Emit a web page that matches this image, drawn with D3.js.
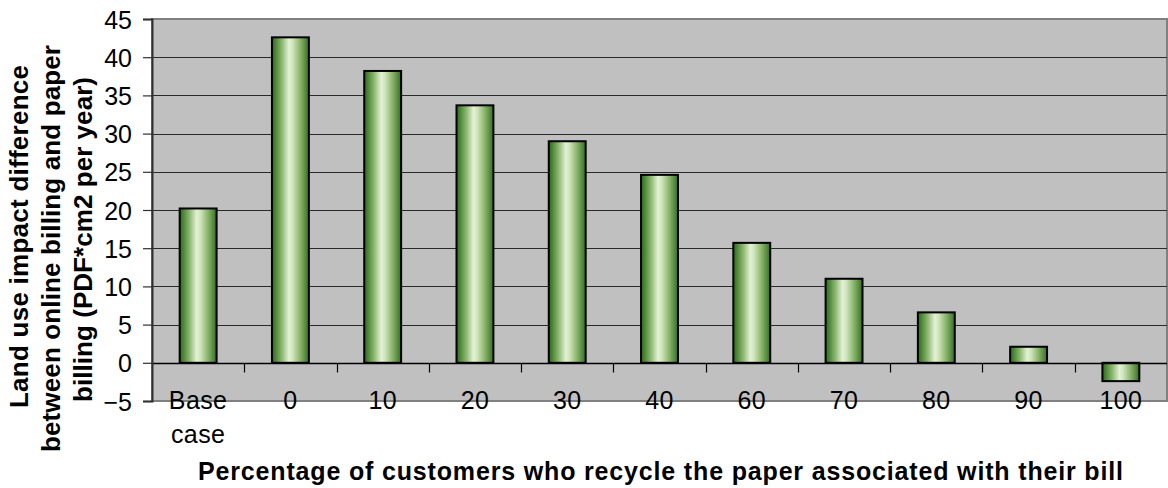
<!DOCTYPE html>
<html>
<head>
<meta charset="utf-8">
<script src="https://cdn.jsdelivr.net/npm/d3@7/dist/d3.min.js"></script>
<style>
  html, body { margin: 0; padding: 0; background: #ffffff; }
  svg { display: block; }
  text { font-family: "Liberation Sans", Arial, Helvetica, sans-serif; fill: #000; }
</style>
</head>
<body>
<svg id="chart" width="1168" height="488"></svg>
<script>
// ---- data ----
const categories = ["Base case", "0", "10", "20", "30", "40", "60", "70", "80", "90", "100"];
const values = [20.2, 42.6, 38.2, 33.7, 29.0, 24.6, 15.7, 11.0, 6.6, 2.1, -2.4];
const yTicks = [-5, 0, 5, 10, 15, 20, 25, 30, 35, 40, 45];
const yTitleLines = [
  "Land use impact difference",
  "between online billing and paper",
  "billing (PDF*cm2 per year)"
];
const xTitle = "Percentage of customers who recycle the paper associated with their bill";

// ---- layout ----
const svg = d3.select("#chart");
const plot = { left: 152, right: 1167, top: 19, bottom: 401 };

const x = d3.scaleBand()
  .domain(categories)
  .range([plot.left, plot.right])
  .paddingInner(0.6)
  .paddingOuter(0.3);

const y = d3.scaleLinear()
  .domain([-5, 45])
  .range([plot.bottom, plot.top]);

// gradient for bars
const defs = svg.append("defs");
const grad = defs.append("linearGradient")
  .attr("id", "barGrad")
  .attr("x1", "0%").attr("x2", "100%")
  .attr("y1", "0%").attr("y2", "0%");
[
  [0, "#2c6a1d"],
  [0.10, "#4c8736"],
  [0.28, "#92bb76"],
  [0.46, "#e3f1d6"],
  [0.56, "#d0e5bc"],
  [0.78, "#84b065"],
  [1, "#336f25"]
].forEach(([o, c]) => grad.append("stop").attr("offset", o).attr("stop-color", c));

// plot background
svg.append("rect")
  .attr("x", plot.left).attr("y", plot.top)
  .attr("width", plot.right - plot.left)
  .attr("height", plot.bottom - plot.top)
  .attr("fill", "#c0c0c0")
  .attr("stroke", "#808080")
  .attr("stroke-width", 2);

// gridlines
svg.append("g")
  .selectAll("line")
  .data(yTicks.filter(t => t > -5 && t < 45 && t !== 0))
  .join("line")
  .attr("x1", plot.left).attr("x2", plot.right)
  .attr("y1", d => Math.round(y(d)) + 0.5)
  .attr("y2", d => Math.round(y(d)) + 0.5)
  .attr("stroke", "#2a2a2a")
  .attr("stroke-width", 1.2);

// bars
svg.append("g")
  .selectAll("rect")
  .data(categories.map((c, i) => ({ c, v: values[i] })))
  .join("rect")
  .attr("x", d => x(d.c))
  .attr("width", x.bandwidth())
  .attr("y", d => y(Math.max(0, d.v)))
  .attr("height", d => Math.abs(y(d.v) - y(0)))
  .attr("fill", "url(#barGrad)")
  .attr("stroke", "#000")
  .attr("stroke-width", 2);

// x axis line at zero
const y0 = Math.round(y(0)) + 0.5;
svg.append("line")
  .attr("x1", plot.left).attr("x2", plot.right)
  .attr("y1", y0).attr("y2", y0)
  .attr("stroke", "#000").attr("stroke-width", 1.5);

// category tick marks (boundaries between categories)
const step = x.step();
const boundaries = categories.slice(1).map(c => x(c) - (step - x.bandwidth()) / 2);
svg.append("g")
  .selectAll("line")
  .data(boundaries)
  .join("line")
  .attr("x1", d => Math.round(d) + 0.5).attr("x2", d => Math.round(d) + 0.5)
  .attr("y1", y0).attr("y2", y0 + 9)
  .attr("stroke", "#000").attr("stroke-width", 1.2);

// y axis
const yAxis = d3.axisLeft(y).tickValues(yTicks).tickSize(9).tickPadding(11)
  .tickFormat(d3.format("d"));
const gy = svg.append("g")
  .attr("transform", `translate(${plot.left},0)`)
  .call(yAxis);
gy.select(".domain").attr("stroke", "#303030").attr("stroke-width", 2);
gy.selectAll(".tick line").attr("stroke", "#303030").attr("stroke-width", 1.2);
gy.selectAll(".tick text")
  .attr("font-size", 25)
  .attr("fill", "#000")
  .attr("dy", "0.36em");

// x category labels
const xl = svg.append("g")
  .selectAll("text")
  .data(categories)
  .join("text")
  .attr("x", d => x(d) + x.bandwidth() / 2)
  .attr("y", 409)
  .attr("text-anchor", "middle")
  .attr("font-size", 25)
  .attr("letter-spacing", "0.4px");
xl.each(function (d) {
  const parts = d.split(" ");
  const t = d3.select(this);
  parts.forEach((p, i) => {
    t.append("tspan")
      .attr("x", x(d) + x.bandwidth() / 2)
      .attr("dy", i === 0 ? 0 : 34)
      .text(p);
  });
});

// y title (three rotated lines)
const yTitleSpecs = [
  { bx: 28, start: 408, len: 343 },
  { bx: 60, start: 452, len: 407 },
  { bx: 92, start: 402, len: 325 }
];
yTitleLines.forEach((line, i) => {
  const s = yTitleSpecs[i];
  svg.append("text")
    .attr("transform", `translate(${s.bx},${s.start}) rotate(-90)`)
    .attr("text-anchor", "start")
    .attr("font-size", 26)
    .attr("font-weight", "bold")
    .attr("textLength", s.len)
    .attr("lengthAdjust", "spacing")
    .text(line);
});

// x title
svg.append("text")
  .attr("x", 198)
  .attr("y", 480)
  .attr("text-anchor", "start")
  .attr("font-size", 25)
  .attr("font-weight", "bold")
  .attr("textLength", 925)
  .attr("lengthAdjust", "spacing")
  .text(xTitle);
</script>
</body>
</html>
